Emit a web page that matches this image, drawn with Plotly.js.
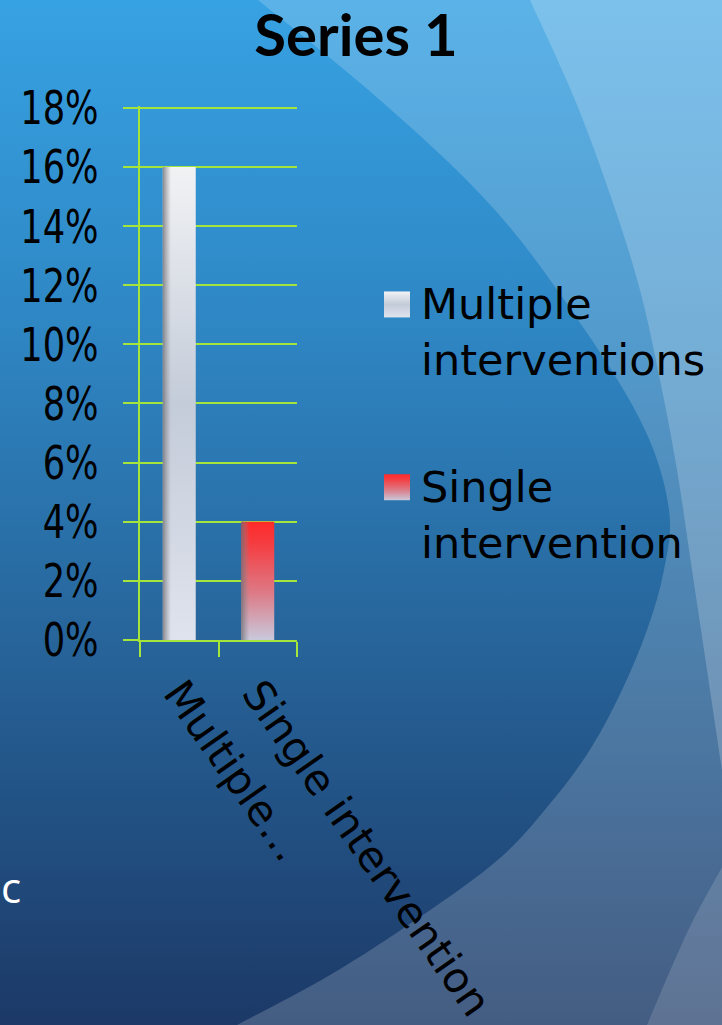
<!DOCTYPE html>
<html>
<head>
<meta charset="utf-8">
<script src="https://cdn.plot.ly/plotly-3.0.1.min.js"></script>
<style>
  html, body { margin: 0; padding: 0; width: 722px; height: 1025px; overflow: hidden; background: #1d3a68; }
  #wrap { position: relative; width: 722px; height: 1025px; }
  #bg { position: absolute; left: 0; top: 0; }
  #chart { position: absolute; left: 0; top: 0; width: 722px; height: 1025px; }
</style>
</head>
<body>
<div id="wrap">
  <svg id="bg" width="722" height="1025" viewBox="0 0 722 1025" xmlns="http://www.w3.org/2000/svg">
    <defs>
      <linearGradient id="sky" x1="0" y1="0" x2="0" y2="1">
        <stop offset="0" stop-color="#37a2e3"/>
        <stop offset="0.33" stop-color="#2e85c2"/>
        <stop offset="0.62" stop-color="#27659b"/>
        <stop offset="1" stop-color="#1c3967"/>
      </linearGradient>
    </defs>
    <rect x="0" y="0" width="722" height="1025" fill="url(#sky)"/>
    <path id="arcA" fill="#ffffff" fill-opacity="0.18"/>
    <path id="arcB" fill="#ffffff" fill-opacity="0.2"/>
    <path id="arcC" fill="#ffffff" fill-opacity="0.14"/>
  </svg>
  <div id="chart"></div>
</div>
<script>
// ---- chart data ----
const categories = ["Multiple interventions", "Single intervention"];
const shares = [0.16, 0.04];
const tickLabels = ["Multiple\u2026", "Single intervention"];
const legendNames = ["Multiple<br>interventions", "Single<br>intervention"];
const chartTitle = "Series 1";

// ---- decorative backdrop: soft overlapping arcs ----
function smoothPath(pts, tail) {
  let d = "M" + pts[0][0] + "," + pts[0][1];
  for (let i = 0; i < pts.length - 1; i++) {
    const p0 = pts[Math.max(i - 1, 0)], p1 = pts[i], p2 = pts[i + 1], p3 = pts[Math.min(i + 2, pts.length - 1)];
    const c1 = [p1[0] + (p2[0] - p0[0]) / 6, p1[1] + (p2[1] - p0[1]) / 6];
    const c2 = [p2[0] - (p3[0] - p1[0]) / 6, p2[1] - (p3[1] - p1[1]) / 6];
    d += " C" + c1.join(",") + " " + c2.join(",") + " " + p2.join(",");
  }
  tail.forEach(p => { d += " L" + p.join(","); });
  return d + " Z";
}
document.getElementById("arcA").setAttribute("d", smoothPath(
  [[258,0],[380,100],[495,210],[585,330],[645,430],[669,510],[664,570],[647,630],[622,690],[591,748],[553,800],[500,858],[420,917],[330,975],[237,1025]],
  [[722,1025],[722,0]]));
document.getElementById("arcB").setAttribute("d", smoothPath(
  [[530,0],[575,100],[612,200],[640,290],[660,380],[677,470],[692,570],[707,670],[722,770]],
  [[722,0]]));
document.getElementById("arcC").setAttribute("d", smoothPath(
  [[722,867],[687,933],[647,1025]],
  [[722,1025]]));

// ---- plot geometry ----
const W = 722, H = 1025;
const M = { l: 140, r: 424, t: 106, b: 385 };
const pw = W - M.l - M.r, ph = H - M.t - M.b;
const px2x = x => (x - M.l) / pw;
const px2y = y => (H - M.b - y) / ph;

const green = "#a5e43a";
const txtFont = "DejaVu Sans, Lato, sans-serif";

const traces = categories.map((c, i) => ({
  type: "bar",
  x: [c],
  y: [shares[i]],
  name: legendNames[i],
  legendgroup: "g" + i,
  marker: { color: i === 0 ? "#dfe3ec" : "#ee4b55", line: { width: 0 } },
  hoverinfo: "skip"
}));

const layout = {
  width: W, height: H,
  margin: M,
  paper_bgcolor: "rgba(0,0,0,0)",
  plot_bgcolor: "rgba(0,0,0,0)",
  barmode: "overlay",
  bargap: 0.58,
  showlegend: true,
  title: {
    text: "<b>" + chartTitle + "</b>",
    font: { family: "Lato, DejaVu Sans, sans-serif", size: 58, color: "#000" },
    x: 356 / W, xanchor: "center",
    y: 1 - 36 / H, yanchor: "middle", yref: "container"
  },
  xaxis: {
    type: "category",
    categoryorder: "array", categoryarray: categories,
    tickvals: categories, ticktext: tickLabels,
    tickangle: 55,
    tickfont: { family: txtFont, size: 42, color: "#000" },
    ticklabelstandoff: 10,
    ticks: "outside", tickson: "boundaries", ticklen: 15, tickwidth: 2, tickcolor: green,
    showline: true, linecolor: green, linewidth: 2,
    showgrid: false, zeroline: false, fixedrange: true
  },
  yaxis: {
    range: [0, 0.1806], dtick: 0.02, tick0: 0, tickformat: ".0%",
    tickfont: { family: txtFont, size: 47, color: "#000" },
    ticks: "outside", ticklen: 15, tickwidth: 2, tickcolor: green,
    ticklabelstandoff: 15,
    showline: true, linecolor: green, linewidth: 2,
    showgrid: true, gridcolor: green, gridwidth: 2,
    zeroline: false, fixedrange: true
  },
  legend: {
    x: px2x(381), xanchor: "left",
    y: px2y(268), yanchor: "top",
    bgcolor: "rgba(0,0,0,0)", borderwidth: 0,
    font: { family: txtFont, size: 43, color: "#000" },
    traceorder: "grouped", tracegroupgap: 68,
    valign: "top"
  },
  annotations: [{
    text: "c", showarrow: false,
    xref: "paper", yref: "paper",
    x: px2x(-2), y: px2y(886), xanchor: "left", yanchor: "middle",
    font: { family: "Open Sans, DejaVu Sans, sans-serif", size: 42, color: "#ffffff" }
  }]
};

// ---- gradient fills for the bars and legend keys ----
const SVGNS = "http://www.w3.org/2000/svg";
function addGradient(defs, id, vertical, stops) {
  const g = document.createElementNS(SVGNS, "linearGradient");
  g.setAttribute("id", id);
  g.setAttribute("x1", "0"); g.setAttribute("y1", "0");
  g.setAttribute("x2", vertical ? "0" : "1"); g.setAttribute("y2", vertical ? "1" : "0");
  stops.forEach(s => {
    const st = document.createElementNS(SVGNS, "stop");
    st.setAttribute("offset", s[0]);
    st.setAttribute("stop-color", s[1]);
    st.setAttribute("stop-opacity", s[2] === undefined ? 1 : s[2]);
    g.appendChild(st);
  });
  defs.appendChild(g);
}
function squeezeText(el, sx) {
  const bb = el.getBBox();
  const r = bb.x + bb.width;
  const t = el.getAttribute("transform") || "";
  el.setAttribute("transform", t + " translate(" + r + ",0) scale(" + sx + ",1) translate(" + (-r) + ",0)");
}
function paintFills(gd) {
  const svg = gd.querySelector(".main-svg");
  const defs = svg.querySelector("defs");
  addGradient(defs, "fillMulti", true, [[0, "#f1f2f4"], [0.5, "#c4ccd9"], [1, "#dfe3ed"]]);
  addGradient(defs, "fillSingle", true, [[0, "#ff2a2a"], [0.18, "#f53c40"], [0.6, "#dd7a86"], [1, "#c8c9dc"]]);
  addGradient(defs, "edgeShade", false, [[0, "#6e6e74", 0.8], [0.25, "#8a8a90", 0]]);
  const fills = ["url(#fillMulti)", "url(#fillSingle)"];

  gd.querySelectorAll(".barlayer .trace").forEach((tr, i) => {
    tr.querySelectorAll(".point path").forEach(p => {
      p.style.fill = fills[i];
      p.style.fillOpacity = 1;
      const shade = p.cloneNode(true);
      shade.style.fill = "url(#edgeShade)";
      shade.style.pointerEvents = "none";
      p.parentNode.insertBefore(shade, p.nextSibling);
    });
  });
  gd.querySelectorAll(".legend .traces").forEach((tr, i) => {
    tr.querySelectorAll(".legendpoints path").forEach(p => {
      const t = p.getAttribute("transform") || "";
      p.setAttribute("d", "M13,13H-13V-13H13Z");
      p.style.fill = fills[i];
      p.style.stroke = "none";
      p.setAttribute("transform", t + " translate(-4,2)");
    });
  });
  // narrow, tall percentage labels
  gd.querySelectorAll(".yaxislayer-above .ytick text").forEach(el => squeezeText(el, 0.75));
}

Plotly.newPlot("chart", traces, layout, { staticPlot: true, displayModeBar: false })
  .then(paintFills);
</script>
</body>
</html>
